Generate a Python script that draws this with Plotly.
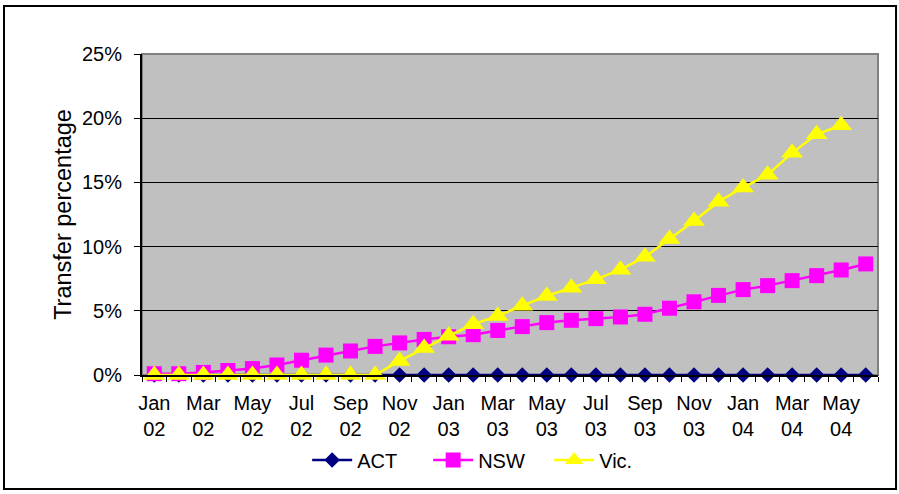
import plotly.graph_objects as go

months = ["Jan", "Feb", "Mar", "Apr", "May", "Jun", "Jul", "Aug", "Sep", "Oct", "Nov", "Dec"]
categories = []
for yr in ["02", "03", "04"]:
    for m in months:
        categories.append(f"{m} {yr}")
categories = categories[:30]  # Jan 02 .. Jun 04

tick_labels = [c.replace(" ", "<br>") if i % 2 == 0 else "" for i, c in enumerate(categories)]

act = [0, 0, 0, 0, 0, 0, 0, 0, 0, 0, 0, 0, 0, 0, 0, 0, 0, 0, 0, 0,
       0, 0, 0, 0, 0, 0, 0, 0, 0, 0]
nsw = [0.10, 0.10, 0.20, 0.35, 0.50, 0.78, 1.15, 1.55, 1.87, 2.23,
       2.50, 2.77, 2.98, 3.14, 3.47, 3.77, 4.08, 4.26, 4.39, 4.52,
       4.73, 5.20, 5.70, 6.20, 6.65, 6.96, 7.35, 7.74, 8.18, 8.65]
vic = [0, 0, 0, 0, 0, 0, 0, 0, 0, 0,
       1.10, 2.10, 3.05, 3.95, 4.60, 5.40, 6.15, 6.80, 7.45, 8.20,
       9.20, 10.60, 12.00, 13.50, 14.60, 15.60, 17.30, 18.75, 19.45, None]

FONT = "Arial, Liberation Sans, sans-serif"

def pct(vals):
    return [None if v is None else v / 100 for v in vals]

fig = go.Figure()
fig.add_trace(go.Scatter(x=categories, y=pct(act), name="ACT", mode="lines+markers",
                         line=dict(color="#000080", width=2.5),
                         marker=dict(symbol="diamond", size=12, color="#000080"),
                         cliponaxis=False))
fig.add_trace(go.Scatter(x=categories, y=pct(nsw), name="NSW", mode="lines+markers",
                         line=dict(color="#FF00FF", width=2.5),
                         marker=dict(symbol="square", size=15, color="#FF00FF"),
                         cliponaxis=False))
fig.add_trace(go.Scatter(x=categories, y=pct(vic), name="Vic.", mode="lines+markers",
                         line=dict(color="#FFFF00", width=2.5),
                         marker=dict(symbol="triangle-up", size=19, color="#FFFF00"),
                         cliponaxis=False))

fig.update_layout(
    width=899, height=494,
    margin=dict(l=142, r=21, t=54, b=119),
    paper_bgcolor="white",
    plot_bgcolor="#C0C0C0",
    font=dict(family=FONT, size=20, color="black"),
    showlegend=True,
    legend=dict(orientation="h", x=0.471, xanchor="center", y=-0.265, yanchor="middle",
                font=dict(size=20), bgcolor="rgba(0,0,0,0)", itemwidth=40,
                entrywidth=66, tracegroupgap=0),
    shapes=[
        dict(type="rect", xref="paper", yref="paper", x0=0, x1=1, y0=0, y1=1,
             line=dict(color="#808080", width=2), layer="below"),
        dict(type="rect", xref="paper", yref="paper", x0=-0.1875, x1=1.0245,
             y0=-0.355, y1=1.1495, line=dict(color="black", width=2)),
    ],
)

fig.update_xaxes(
    type="category", categoryorder="array", categoryarray=categories,
    range=[-0.5, len(categories) - 0.5],
    tickmode="array", tickvals=categories, ticktext=tick_labels,
    tickson="boundaries", ticks="outside", ticklen=5, tickcolor="black", tickwidth=1,
    showline=True, linecolor="black", linewidth=2,
    showgrid=False, zeroline=False, tickangle=0,
    tickfont=dict(family=FONT, size=20), ticklabelstandoff=9,
)
fig.update_yaxes(
    range=[0, 0.25], dtick=0.05, tick0=0, tickformat=".0%",
    ticks="outside", ticklen=6, tickcolor="black", tickwidth=1,
    showline=True, linecolor="black", linewidth=2,
    showgrid=True, gridcolor="#000000", gridwidth=1, zeroline=False,
    tickfont=dict(family=FONT, size=20), ticklabelstandoff=8,
    title=dict(text="Transfer percentage", font=dict(family=FONT, size=23.5), standoff=4),
)

fig.write_html("out.html", config={"displayModeBar": False},
               post_script="document.body.style.margin='0px';")
